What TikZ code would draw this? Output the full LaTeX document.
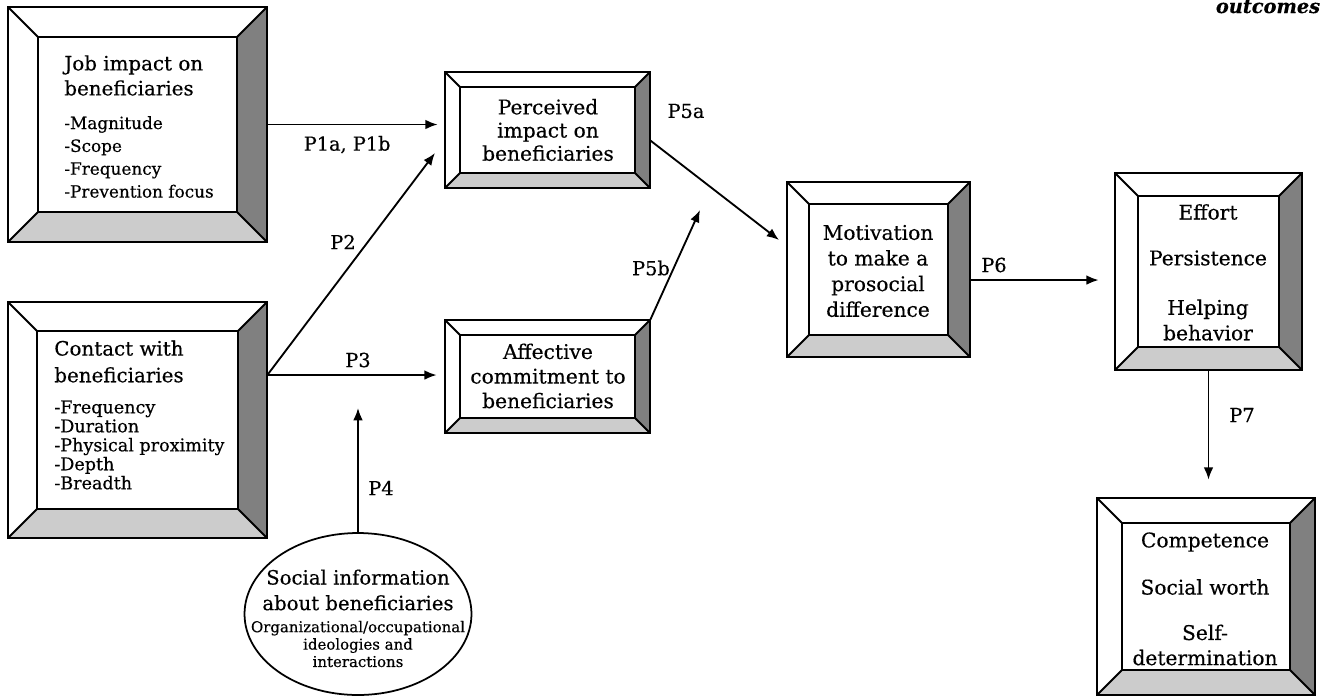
\documentclass[tikz,border=0pt]{standalone}
\usepackage{fontspec}
\setmainfont{DejaVu Serif}[FakeBold=0.4]
\usetikzlibrary{arrows.meta,fit,shapes.geometric,calc}
\tikzset{
  boxline/.style={line width=1.15pt, line join=miter},
  rshade/.style={fill=black!50},
  bshade/.style={fill=black!20},
  arr/.style={-{Latex[length=7pt,width=5.5pt]}, line width=1.05pt},
  lbl/.style={font=\fontsize{11}{13}\selectfont, inner sep=0},
  maintxt/.style={align=center, inner sep=0},
  subtxt/.style={align=left, inner sep=0},
}
\newcommand\bevbox[6]{%
  \fill[white] (#2,#3) rectangle (#4,#5);
  \fill[rshade] (#4,#3) -- (#4,#5) -- (#4-#6,#5-#6) -- (#4-#6,#3+#6) -- cycle;
  \fill[bshade] (#2,#5) -- (#4,#5) -- (#4-#6,#5-#6) -- (#2+#6,#5-#6) -- cycle;
  \draw[boxline] (#2,#3) rectangle (#4,#5);
  \draw[boxline] (#2+#6,#3+#6) rectangle (#4-#6,#5-#6);
  \draw[boxline] (#2,#3) -- (#2+#6,#3+#6);
  \draw[boxline] (#4,#3) -- (#4-#6,#3+#6);
  \draw[boxline] (#2,#5) -- (#2+#6,#5-#6);
  \draw[boxline] (#4,#5) -- (#4-#6,#5-#6);
  \coordinate (#1-nw) at (#2,#3);
  \coordinate (#1-se) at (#4,#5);
  \node[fit=(#1-nw)(#1-se), inner sep=0pt] (#1) {};
}
\begin{document}
\begin{tikzpicture}[x=0.02cm,y=-0.02cm]
\useasboundingbox (0,0) rectangle (1325,697);

% boxes
\bevbox{job}{8}{7}{267}{242}{30}
\bevbox{contact}{8}{302}{267}{538}{29}
\bevbox{perc}{445}{72}{650}{188}{15}
\bevbox{aff}{445}{320}{650}{433}{15}
\bevbox{motiv}{787}{182}{970}{357}{22}
\bevbox{eff}{1115}{173}{1302}{370}{23}
\bevbox{comp}{1097}{498}{1315}{695}{25}

\node[draw, ellipse, line width=1pt, minimum width=4.54cm, minimum height=3.24cm] (soc) at (358,614) {};

% texts
\node[subtxt, anchor=west, font=\fontsize{11.3}{14.2}\selectfont] (jobT) at (64,75.5) {Job impact on\\beneficiaries};
\node[subtxt, anchor=west, font=\fontsize{9.6}{13}\selectfont] (jobL) at (64,157) {-Magnitude\\-Scope\\-Frequency\\-Prevention focus};
\node[subtxt, anchor=west, font=\fontsize{11.3}{15.2}\selectfont] (conT) at (54,361.5) {Contact with\\beneficiaries};
\node[subtxt, anchor=west, font=\fontsize{10}{10.8}\selectfont] (conL) at (54,445) {-Frequency\\-Duration\\-Physical proximity\\-Depth\\-Breadth};
\node[maintxt, font=\fontsize{11.5}{13.2}\selectfont] (percT) at (548,130) {Perceived\\impact on\\beneficiaries};
\node[maintxt, font=\fontsize{11.5}{14}\selectfont] (affT) at (548,376) {Affective\\commitment to\\beneficiaries};
\node[maintxt, font=\fontsize{11.5}{14.6}\selectfont] (motT) at (878,271) {Motivation\\to make a\\prosocial\\difference};
\node[maintxt, font=\fontsize{11.5}{14}\selectfont] (effA) at (1208,212) {Effort};
\node[maintxt, font=\fontsize{11.5}{14}\selectfont] (effB) at (1208,258) {Persistence};
\node[maintxt, font=\fontsize{11.5}{14.5}\selectfont] (effC) at (1208,320) {Helping\\behavior};
\node[maintxt, font=\fontsize{11.5}{14}\selectfont] (compA) at (1205,542) {Competence};
\node[maintxt, font=\fontsize{11.5}{14}\selectfont] (compB) at (1205,587) {Social worth};
\node[maintxt, font=\fontsize{11.5}{14.3}\selectfont] (compC) at (1205,645) {Self-\\determination};
\node[maintxt, font=\fontsize{11.2}{14.6}\selectfont] (socT) at (358,590) {Social information\\about beneficiaries};
\node[maintxt, font=\fontsize{8.5}{9.9}\selectfont] (socL) at (358,644) {Organizational/occupational\\ideologies and\\interactions};
\node[inner sep=0, anchor=base, font=\fontsize{11}{13}\bfseries\itshape] (outc) at (1268,13) {outcomes};

% connectors
\coordinate (cs) at ($(contact.north east)!0.31!(contact.south east)$);
\coordinate (p2end) at (435,153);
\coordinate (p4end) at (358,408);
\coordinate (p5as) at ($(perc.north east)!0.59!(perc.south east)$);
\coordinate (p5aend) at (779,240);
\coordinate (p5bend) at (700,210);
\coordinate (p6s) at ($(motiv.north east)!0.56!(motiv.south east)$);

\draw[arr, shorten >=7*0.02cm] (job.east) -- (job.east -| perc.west) node[lbl, pos=0.45, below=6pt] (l1) {P1a, P1b};
\draw[arr] (cs) -- (p2end);
\draw[arr, shorten >=8*0.02cm] (cs) -- (cs -| aff.west);
\draw[arr] (soc.north) -- (p4end);
\draw[arr] (p5as) -- (p5aend);
\draw[arr] (aff.north east) -- (p5bend);
\draw[arr, shorten >=16*0.02cm] (p6s) -- (p6s -| eff.west);
\draw[arr, shorten >=18*0.02cm] (eff.south) -- (eff.south |- comp.north);

\node[lbl] (l2) at (343,242) {P2};
\node[lbl] (l3) at (358,360) {P3};
\node[lbl] (l4) at (381,488) {P4};
\node[lbl] (l5a) at (686,111) {P5a};
\node[lbl] (l5b) at (651,268) {P5b};
\node[lbl] (l6) at (994,265) {P6};
\node[lbl] (l7) at (1242,415) {P7};
\end{tikzpicture}
\end{document}
